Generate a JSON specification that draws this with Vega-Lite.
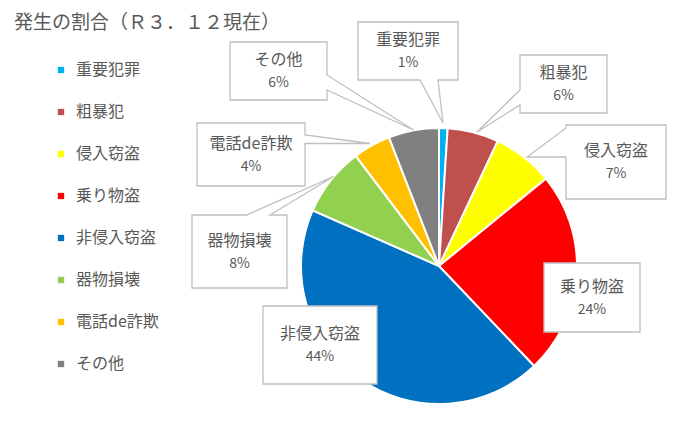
{
  "$schema": "https://vega.github.io/schema/vega-lite/v6.json",
  "autosize": {"type": "none"},
  "padding": {"left": 301, "top": 128, "right": 104, "bottom": 19},
  "width": 276,
  "height": 276,
  "background": "white",
  "view": {"stroke": null},
  "title": {
    "text": "発生の割合（Ｒ３．１２現在）",
    "anchor": "start",
    "frame": "group",
    "dx": -287,
    "offset": -14,
    "fontSize": 19,
    "font": "Noto Sans CJK JP",
    "fontWeight": "normal",
    "color": "#595959"
  },
  "data": {
    "values": [
      {"idx": 0, "category": "重要犯罪", "share": 0.010},
      {"idx": 1, "category": "粗暴犯", "share": 0.060},
      {"idx": 2, "category": "侵入窃盗", "share": 0.071},
      {"idx": 3, "category": "乗り物盗", "share": 0.238},
      {"idx": 4, "category": "非侵入窃盗", "share": 0.437},
      {"idx": 5, "category": "器物損壊", "share": 0.081},
      {"idx": 6, "category": "電話de詐欺", "share": 0.044},
      {"idx": 7, "category": "その他", "share": 0.059}
    ]
  },
  "layer": [
    {
      "mark": {"type": "arc", "stroke": "white", "strokeWidth": 2},
      "encoding": {
        "theta": {"field": "share", "type": "quantitative", "stack": true},
        "order": {"field": "idx", "type": "quantitative"},
        "color": {
          "field": "category",
          "type": "nominal",
          "scale": {
            "domain": ["重要犯罪", "粗暴犯", "侵入窃盗", "乗り物盗", "非侵入窃盗", "器物損壊", "電話de詐欺", "その他"],
            "range": ["#00B0F0", "#C0504D", "#FFFF00", "#FF0000", "#0070C0", "#92D050", "#FFC000", "#808080"]
          },
          "legend": {
            "orient": "none",
            "legendX": -248,
            "legendY": -66,
            "title": null,
            "symbolType": "square",
            "symbolSize": 40,
            "symbolStrokeWidth": 0,
            "labelFontSize": 16,
            "labelFont": "Noto Sans CJK JP",
            "labelColor": "#595959",
            "labelOffset": 7,
            "rowPadding": 26,
            "padding": 0
          }
        }
      }
    },
    {
      "mark": {"type": "point", "filled": true, "fill": "white", "stroke": "#BFBFBF", "strokeWidth": 1.3, "size": 4, "opacity": 1},
      "encoding": {
        "x": {"field": "idx", "type": "quantitative", "axis": null,
              "scale": {"domain": [0, 1, 2, 3, 4, 5, 6, 7], "range": [107, 262.5, 315, 291, 19, -61.5, -50, -22.5], "zero": false, "nice": false}},
        "y": {"field": "idx", "type": "quantitative", "axis": null,
              "scale": {"domain": [0, 1, 2, 3, 4, 5, 6, 7], "range": [-77, -44, 34, 169.5, 217, 123.5, 26.5, -57], "zero": false, "nice": false}},
        "shape": {
          "field": "idx",
          "type": "nominal",
          "legend": null,
          "scale": {
            "domain": [0, 1, 2, 3, 4, 5, 6, 7],
            "range": [
              "M-50,-29H50V29H30L35,72L12,29H-50Z",
              "M-43.5,-29H43.5V29H-43.5V21L-86.5,48L-43.5,6Z",
              "M-50,-37H50V37H-50V-5L-89,-5L-50,-34Z",
              "M-48,-34.5H48V34.5H-48Z",
              "M-57,-39H57V39H-57Z",
              "M-47.5,-36.5H7L94,-75L30.5,-36.5H47.5V36.5H-47.5Z",
              "M-54,-31.5H54V-19.5L119,-11L54,-11V31.5H-54Z",
              "M-48.5,-29H48.5V4L135,59L48.5,19V29H-48.5Z"
            ]
          }
        }
      }
    },
    {
      "mark": {"type": "text", "dy": -11, "fontSize": 16, "font": "Noto Sans CJK JP", "color": "#595959", "baseline": "middle", "align": "center"},
      "encoding": {
        "x": {"field": "idx", "type": "quantitative"},
        "y": {"field": "idx", "type": "quantitative"},
        "text": {"field": "category", "type": "nominal"}
      }
    },
    {
      "mark": {"type": "text", "dy": 12, "fontSize": 14, "font": "Noto Sans CJK JP", "color": "#595959", "baseline": "middle", "align": "center"},
      "encoding": {
        "x": {"field": "idx", "type": "quantitative"},
        "y": {"field": "idx", "type": "quantitative"},
        "text": {"field": "share", "type": "quantitative", "format": ".0%"}
      }
    }
  ]
}
